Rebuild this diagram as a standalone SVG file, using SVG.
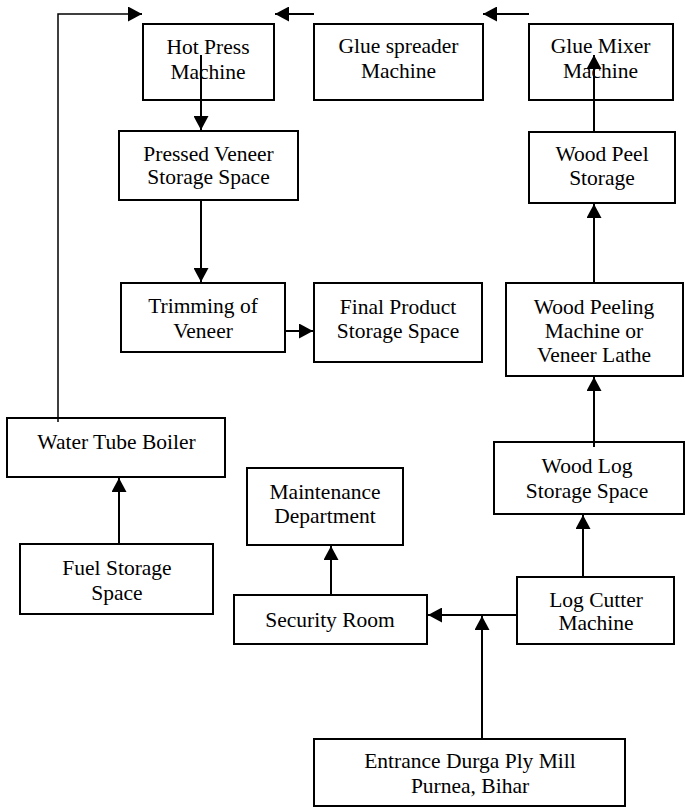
<svg xmlns="http://www.w3.org/2000/svg" width="685" height="807" viewBox="0 0 685 807">
<style>
.box{fill:#fff;stroke:#000;stroke-width:2}
.t{fill:#000;text-anchor:middle}
.c{stroke:#000;stroke-width:2;fill:none}
.thin{stroke:#000;stroke-width:1.5;fill:none}
</style>
<defs>
<marker id="ah" markerUnits="userSpaceOnUse" markerWidth="14" markerHeight="15" refX="14" refY="7.5" orient="auto">
<path d="M0,0 L14,7.5 L0,15 z" fill="#000"/>
</marker>
</defs>
<g font-family="Liberation Serif, Times New Roman, serif" font-size="21.5">
<g id="n-hotpress"><rect class="box" x="143" y="24" width="131" height="76"/><text class="t" x="208" y="54">Hot Press</text><text class="t" x="208" y="79">Machine</text></g>
<g id="n-gluespreader"><rect class="box" x="314" y="24" width="169" height="76"/><text class="t" x="398.5" y="53">Glue spreader</text><text class="t" x="398.5" y="78">Machine</text></g>
<g id="n-gluemixer"><rect class="box" x="529" y="24" width="144" height="76"/><text class="t" x="600.5" y="53">Glue Mixer</text><text class="t" x="600.5" y="78">Machine</text></g>
<g id="n-pressed"><rect class="box" x="119" y="131" width="179" height="69"/><text class="t" x="208.5" y="161">Pressed Veneer</text><text class="t" x="208.5" y="184">Storage Space</text></g>
<g id="n-woodpeel"><rect class="box" x="529" y="132" width="146" height="71"/><text class="t" x="602" y="161">Wood Peel</text><text class="t" x="602" y="185">Storage</text></g>
<g id="n-trimming"><rect class="box" x="121" y="283" width="164" height="69"/><text class="t" x="203" y="313">Trimming of</text><text class="t" x="203" y="338">Veneer</text></g>
<g id="n-final"><rect class="box" x="314" y="283" width="168" height="79"/><text class="t" x="398" y="314">Final Product</text><text class="t" x="398" y="338">Storage Space</text></g>
<g id="n-peeling"><rect class="box" x="506" y="283" width="177" height="93"/><text class="t" x="594" y="314">Wood Peeling</text><text class="t" x="594" y="338">Machine or</text><text class="t" x="594" y="362">Veneer Lathe</text></g>
<g id="n-boiler"><rect class="box" x="7" y="418" width="218" height="59"/><text class="t" x="116.5" y="449">Water Tube Boiler</text></g>
<g id="n-woodlog"><rect class="box" x="494" y="442" width="190" height="72"/><text class="t" x="587" y="473">Wood Log</text><text class="t" x="587" y="498">Storage Space</text></g>
<g id="n-maintenance"><rect class="box" x="247" y="468" width="156" height="77"/><text class="t" x="325" y="499">Maintenance</text><text class="t" x="325" y="523">Department</text></g>
<g id="n-fuel"><rect class="box" x="20" y="544" width="193" height="70"/><text class="t" x="117" y="575">Fuel Storage</text><text class="t" x="117" y="600">Space</text></g>
<g id="n-security"><rect class="box" x="234" y="595" width="193" height="49"/><text class="t" x="330" y="627">Security Room</text></g>
<g id="n-logcutter"><rect class="box" x="517" y="577" width="157" height="67"/><text class="t" x="596" y="607">Log Cutter</text><text class="t" x="596" y="630">Machine</text></g>
<g id="n-entrance"><rect class="box" x="314" y="739" width="311" height="67"/><text class="t" x="470" y="768">Entrance Durga Ply Mill</text><text class="t" x="470" y="793">Purnea, Bihar</text></g>
</g>
<g id="connectors">
<path class="thin" d="M58,422 L58,14 L128,14"/>
<path class="c" d="M128,14 L142,14" marker-end="url(#ah)"/>
<path class="c" d="M314,14 L275,14" marker-end="url(#ah)"/>
<path class="c" d="M529,14 L483,14" marker-end="url(#ah)"/>
<path class="c" d="M201,55 L201,130" marker-end="url(#ah)"/>
<path class="c" d="M594,132 L594,55" marker-end="url(#ah)"/>
<path class="c" d="M201,200 L201,282" marker-end="url(#ah)"/>
<path class="c" d="M285,331 L313,331" marker-end="url(#ah)"/>
<path class="c" d="M594,283 L594,204" marker-end="url(#ah)"/>
<path class="c" d="M594,447 L594,377" marker-end="url(#ah)"/>
<path class="c" d="M119,544 L119,478" marker-end="url(#ah)"/>
<path class="c" d="M583,577 L583,515" marker-end="url(#ah)"/>
<path class="c" d="M331,595 L331,546" marker-end="url(#ah)"/>
<path class="c" d="M517,615 L428,615" marker-end="url(#ah)"/>
<path class="c" d="M482,739 L482,616" marker-end="url(#ah)"/>
</g>
</svg>
